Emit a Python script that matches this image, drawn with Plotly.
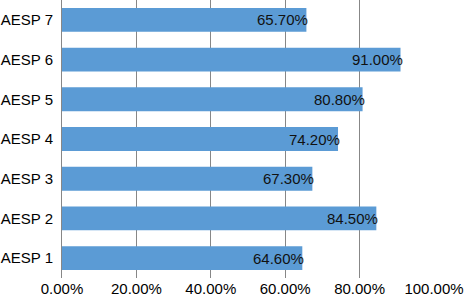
import plotly.graph_objects as go

categories = ["AESP 1", "AESP 2", "AESP 3", "AESP 4", "AESP 5", "AESP 6", "AESP 7"]
values = [0.646, 0.845, 0.673, 0.742, 0.808, 0.910, 0.657]
x_tickvals = [0, 0.2, 0.4, 0.6, 0.8, 1.0]
x_ticktext = ["0.00%", "20.00%", "40.00%", "60.00%", "80.00%", "100.00%"]

FONT = "Liberation Sans, Arial, sans-serif"

fig = go.Figure()
fig.add_trace(go.Bar(
    x=values, y=categories, orientation="h",
    marker=dict(color="#5B9BD5", line=dict(width=0)),
    hoverinfo="skip",
))

for v, c in zip(values, categories):
    fig.add_annotation(
        x=v, y=c, xref="x", yref="y",
        text=f"{v*100:.2f}%", showarrow=False,
        xanchor="right", yanchor="middle", xshift=4,
        font=dict(family=FONT, size=15, color="#111111"),
    )

fig.update_layout(
    width=471, height=296,
    margin=dict(l=62, r=37, t=0, b=18, autoexpand=False),
    paper_bgcolor="white", plot_bgcolor="white",
    bargap=0.4, showlegend=False,
    font=dict(family=FONT, size=15, color="#000000"),
    xaxis=dict(
        range=[0, 1], tickvals=x_tickvals, ticktext=x_ticktext,
        showgrid=True, gridcolor="#878787", gridwidth=1,
        zeroline=False, showline=False, ticks="",
        tickfont=dict(family=FONT, size=15, color="#000000"),
        ticklabelstandoff=0,
        automargin=False, fixedrange=True,
    ),
    yaxis=dict(
        type="category", categoryorder="array", categoryarray=categories,
        showgrid=False, zeroline=False,
        showline=True, linecolor="#878787", linewidth=1,
        ticks="", ticklabelstandoff=5,
        tickfont=dict(family=FONT, size=15, color="#000000"),
        automargin=False, fixedrange=True,
    ),
)

fig.write_html(
    "out.html",
    config={"displayModeBar": False, "staticPlot": True},
    post_script="document.body.style.margin='0';document.body.style.padding='0';",
)
